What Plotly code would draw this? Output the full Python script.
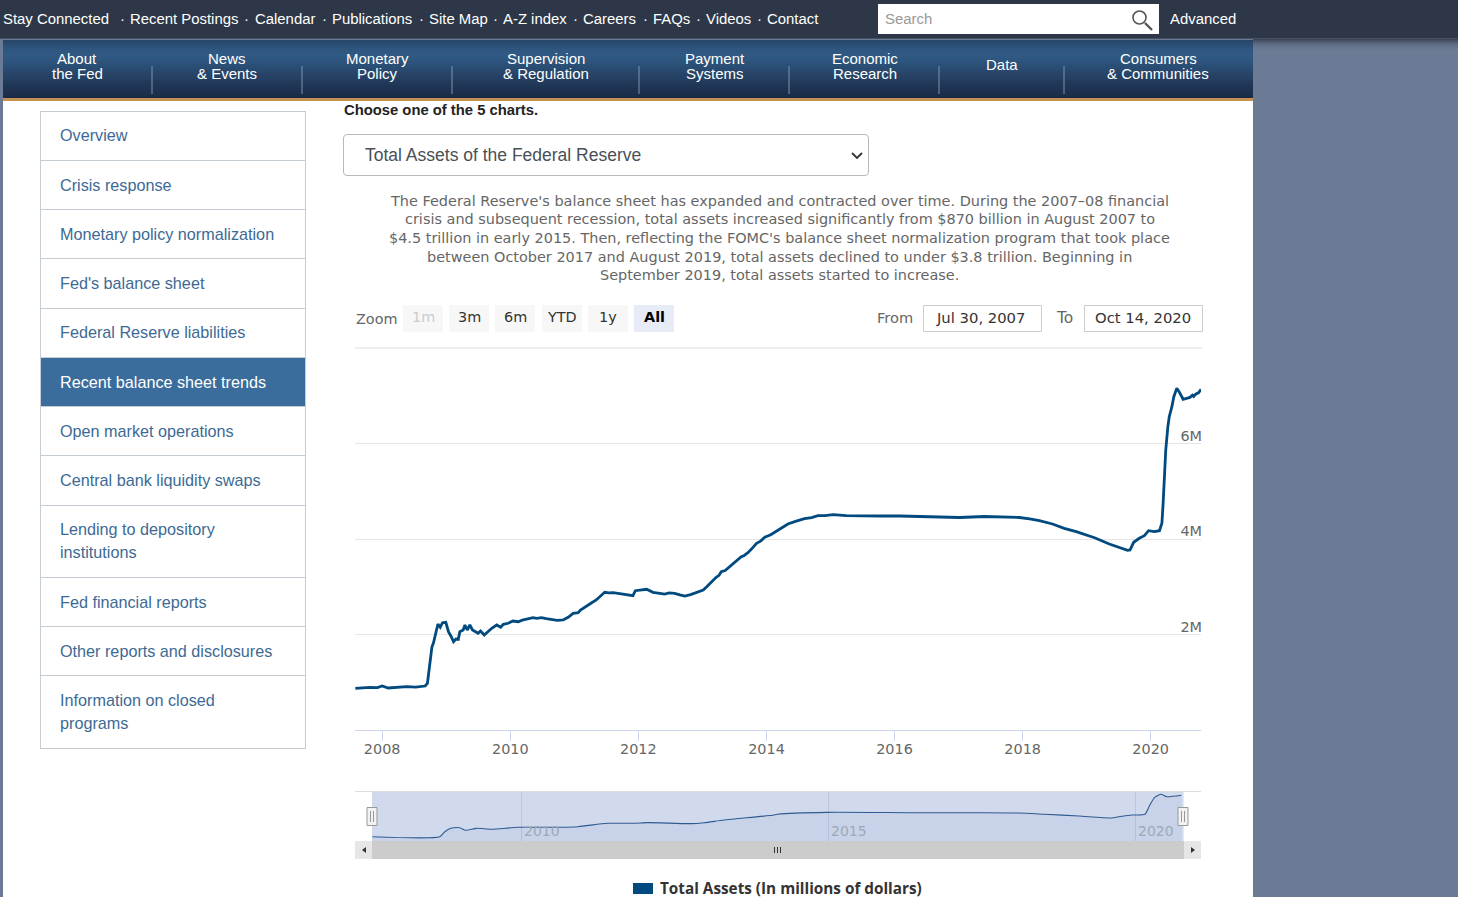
import plotly.graph_objects as go

W, H = 1458, 897

# total assets (millions of dollars)
dates = [
    "2007-08-01", "2007-09-05", "2007-10-22", "2007-12-05", "2008-01-01", "2008-02-04", "2008-03-20", "2008-05-20",
    "2008-07-10", "2008-09-02", "2008-09-15", "2008-09-26", "2008-10-01", "2008-10-11", "2008-10-19", "2008-11-04",
    "2008-11-14", "2008-11-27", "2008-12-10", "2008-12-29", "2009-01-13", "2009-01-29", "2009-02-11", "2009-02-25",
    "2009-03-10", "2009-03-19", "2009-04-07", "2009-04-17", "2009-04-30", "2009-05-15", "2009-05-30", "2009-07-01",
    "2009-07-15", "2009-08-05", "2009-08-28", "2009-09-17", "2009-10-15", "2009-11-07", "2009-11-22", "2009-12-20",
    "2010-01-15", "2010-02-15", "2010-03-10", "2010-04-03", "2010-05-10", "2010-06-01", "2010-06-27", "2010-07-25",
    "2010-08-24", "2010-09-25", "2010-10-29", "2010-11-27", "2010-12-25", "2011-01-23", "2011-02-05", "2011-02-20",
    "2011-03-15", "2011-04-10", "2011-05-06", "2011-05-30", "2011-06-23", "2011-07-15", "2011-08-10", "2011-09-07",
    "2011-10-05", "2011-11-05", "2011-12-01", "2011-12-15", "2012-01-15", "2012-02-17", "2012-03-25", "2012-04-25",
    "2012-05-30", "2012-06-25", "2012-07-26", "2012-08-25", "2012-09-22", "2012-10-25", "2012-11-28", "2013-01-05",
    "2013-01-25", "2013-02-12", "2013-03-01", "2013-03-20", "2013-04-05", "2013-04-18", "2013-05-10", "2013-06-05",
    "2013-07-05", "2013-08-10", "2013-08-25", "2013-09-17", "2013-10-10", "2013-11-05", "2013-11-28", "2013-12-22",
    "2014-01-25", "2014-02-27", "2014-03-28", "2014-05-03", "2014-06-15", "2014-08-06", "2014-09-15", "2014-10-21",
    "2014-12-01", "2015-01-15", "2015-04-01", "2015-06-15", "2015-10-08", "2016-01-30", "2016-05-22", "2016-09-14",
    "2017-01-06", "2017-05-27", "2017-09-18", "2017-12-13", "2018-02-10", "2018-04-06", "2018-06-20", "2018-08-26",
    "2018-11-02", "2019-02-15", "2019-05-10", "2019-08-22", "2019-09-05", "2019-09-26", "2019-10-28", "2019-11-26",
    "2019-12-20", "2020-01-22", "2020-02-20", "2020-03-05", "2020-03-12", "2020-03-20", "2020-03-27", "2020-04-08",
    "2020-04-16", "2020-05-01", "2020-05-12", "2020-05-29", "2020-06-11", "2020-07-04", "2020-07-29", "2020-08-12",
    "2020-08-26", "2020-09-02", "2020-09-15", "2020-09-30", "2020-10-14",
]
total_assets = [
    873000, 885000, 894000, 889000, 921000, 880000, 893000, 907000,
    899000, 921000, 978000, 1326000, 1508000, 1745000, 1816000, 2094000,
    2220000, 2151000, 2247000, 2255000, 2059000, 1954000, 1849000, 1906000,
    1899000, 2059000, 2094000, 2199000, 2094000, 2199000, 2094000, 2025000,
    2073000, 1990000, 2073000, 2130000, 2199000, 2151000, 2214000, 2235000,
    2283000, 2268000, 2300000, 2325000, 2352000, 2338000, 2352000, 2330000,
    2318000, 2296000, 2304000, 2360000, 2444000, 2457000, 2510000, 2549000,
    2612000, 2665000, 2723000, 2800000, 2884000, 2871000, 2878000, 2863000,
    2850000, 2838000, 2813000, 2917000, 2925000, 2947000, 2884000, 2867000,
    2848000, 2870000, 2863000, 2830000, 2806000, 2835000, 2875000, 2932000,
    3000000, 3072000, 3130000, 3198000, 3240000, 3315000, 3340000, 3420000,
    3500000, 3629000, 3650000, 3713000, 3800000, 3910000, 3955000, 4036000,
    4090000, 4168000, 4225000, 4314000, 4370000, 4425000, 4450000, 4488000,
    4490000, 4509000, 4488000, 4482000, 4482000, 4482000, 4471000, 4461000,
    4450000, 4471000, 4461000, 4450000, 4420000, 4383000, 4314000, 4224000,
    4153000, 4027000, 3895000, 3763000, 3770000, 3931000, 4015000, 4069000,
    4174000, 4153000, 4174000, 4329000, 4748000, 5305000, 5864000, 6352000,
    6561000, 6771000, 6980000, 7156000, 7085000, 6926000, 6947000, 6965000,
    7010000, 6985000, 7037000, 7060000, 7135000,
]

# same series as the overview strip shows it, coarser
nav_dates = [
    "2007-08-02", "2008-09-05", "2008-10-05", "2008-11-10", "2009-01-01", "2009-02-06", "2009-04-12", "2009-07-08",
    "2009-12-14", "2010-08-08", "2010-12-06", "2011-05-30", "2011-11-06", "2012-01-23", "2012-10-09", "2012-12-24",
    "2013-04-23", "2014-02-14", "2014-03-14", "2014-12-28", "2016-05-15", "2017-06-13", "2018-02-06", "2018-07-12",
    "2019-01-30", "2019-08-14", "2019-09-24", "2019-12-14", "2020-02-28", "2020-03-28", "2020-04-26", "2020-06-03",
    "2020-07-06", "2020-10-01",
]
nav_assets = [
    870000, 870000, 1610000, 2110000, 2200000, 1820000, 2110000, 1970000,
    2260000, 2260000, 2350000, 2850000, 2850000, 2950000, 2800000, 2940000,
    3340000, 4070000, 4220000, 4470000, 4410000, 4410000, 4370000, 4180000,
    3930000, 3630000, 3820000, 4070000, 4180000, 5550000, 6690000, 7130000,
    6770000, 6980000,
]

range_start = "2007-07-30"
range_end = "2020-10-14"
x_tick_vals = ["2008-01-01", "2010-01-01", "2012-01-01", "2014-01-01", "2016-01-01", "2018-01-01", "2020-01-01"]
x_tick_text = ["2008", "2010", "2012", "2014", "2016", "2018", "2020"]
y_tick_vals = [0, 2000000, 4000000, 6000000]
y_tick_text = ["0", "2M", "4M", "6M"]
nav_tick_vals = ["2010-01-01", "2015-01-01", "2020-01-01"]
nav_tick_text = ["2010", "2015", "2020"]

top_links = ["Recent Postings", "Calendar", "Publications", "Site Map", "A-Z index", "Careers", "FAQs", "Videos", "Contact"]
top_link_x = [130, 255, 332, 429, 503, 583, 653, 706, 767]

nav_labels = [("About", "the Fed"), ("News", "& Events"), ("Monetary", "Policy"), ("Supervision", "& Regulation"),
              ("Payment", "Systems"), ("Economic", "Research"), ("Data",), ("Consumers", "& Communities")]
nav_centers = [77, 227, 377, 546, 715, 865, 1002, 1158]
nav_seps = [152, 302, 452, 639, 789, 939, 1064]

menu_items = ["Overview", "Crisis response", "Monetary policy normalization", "Fed's balance sheet",
              "Federal Reserve liabilities", "Recent balance sheet trends", "Open market operations",
              "Central bank liquidity swaps", ("Lending to depository", "institutions"), "Fed financial reports",
              "Other reports and disclosures", ("Information on closed", "programs")]
menu_edges = [111, 160, 209, 258, 308, 357, 406, 455, 505, 577, 626, 675, 748]
menu_text_y = [135, 185, 234, 283, 332, 382, 431, 480, (529, 552), 602, 651, (700, 723)]

intro_lines = [
    "The Federal Reserve's balance sheet has expanded and contracted over time. During the 2007–08 financial",
    "crisis and subsequent recession, total assets increased significantly from $870 billion in August 2007 to",
    "$4.5 trillion in early 2015. Then, reflecting the FOMC's balance sheet normalization program that took place",
    "between October 2017 and August 2019, total assets declined to under $3.8 trillion. Beginning in",
    "September 2019, total assets started to increase.",
]
zoom_buttons = ["1m", "3m", "6m", "YTD", "1y", "All"]
zoom_left = [403, 449, 495, 542, 588, 634]

ARIAL = "Liberation Sans"
BODY = "DejaVu Sans"
LINE = "#004a80"
AXIS = "#ccd6eb"


def px(x):
    return x / W


def py(y):
    return 1 - y / H


shapes = []
notes = []


def rect(x0, y0, x1, y1, fill, line=None, width=1, layer="below"):
    shapes.append(dict(type="rect", xref="paper", yref="paper", x0=px(x0), x1=px(x1), y0=py(y0), y1=py(y1),
                       fillcolor=fill, line=dict(color=line or fill, width=width if line else 0), layer=layer))


def seg(x0, y0, x1, y1, color, width=1, layer="below"):
    shapes.append(dict(type="line", xref="paper", yref="paper", x0=px(x0), x1=px(x1), y0=py(y0), y1=py(y1),
                       line=dict(color=color, width=width), layer=layer))


def label(x, y, text, size=15, color="#333333", font=ARIAL, anchor="left", bold=False):
    if bold:
        text = "<b>" + text + "</b>"
    if anchor == "left":
        x -= 1  # annotation box adds a pixel
    notes.append(dict(xref="paper", yref="paper", x=px(x), y=py(y), text=text, showarrow=False, xanchor=anchor,
                      yanchor="middle", borderpad=0, font=dict(size=size, color=color, family=font)))


# page background
rect(0, 0, W, H, "#6b7b95")
rect(0, 0, W, 38, "#2d3747")
seg(0, 38.5, W, 38.5, "#465062")
for i in range(12):
    shade = ["#3a4658", "#434f63", "#4b586e", "#525f77", "#58667e", "#5d6b84", "#616f88", "#64738c", "#67768f",
             "#687891", "#6a7a93", "#6b7b94"][i]
    rect(1253, 39 + i, W, 40 + i, shade)

# main nav band
rect(3, 101, 1253, H, "#ffffff")
nav_colors = ["#274668", "#294a6e", "#2b4e74", "#2d5279", "#2e557d", "#2f5780", "#2f5982", "#2f5983", "#2f5982",
              "#2e5780", "#2d557d", "#2c527a", "#2b5077", "#2a4d74", "#294b71", "#28486d", "#27466a", "#264367",
              "#254164", "#243f61", "#233c5e", "#22395a", "#203757", "#1f3554", "#1e3351", "#1d314e", "#1c2f4b",
              "#1b2d49", "#1a2b46"]
for i, c in enumerate(nav_colors):
    rect(3, 40 + 2 * i, 1253, 42 + 2 * i, c)
rect(3, 98, 1253, 101, "#c39250")
for x in nav_seps:
    seg(x, 66, x, 94, "#7f93a9")

# top links
label(3, 19.5, "Stay Connected", 14.9, "#ffffff")
for x, t in zip(top_link_x, top_links):
    label(x - 8, 18.5, "·", 14.9, "#ffffff", anchor="center")
    label(x, 19.5, t, 14.9, "#ffffff")
rect(878, 4, 1159, 34, "#ffffff")
label(885, 19.5, "Search", 14.9, "#999999")
shapes.append(dict(type="circle", xref="paper", yref="paper", x0=px(1133), x1=px(1146), y0=py(11), y1=py(24),
                   line=dict(color="#555555", width=1.6), fillcolor="rgba(0,0,0,0)"))
seg(1145, 23, 1152, 30, "#555555", 2.4)
label(1170, 19.5, "Advanced", 14.9, "#ffffff")

for cx, lines in zip(nav_centers, nav_labels):
    if len(lines) == 1:
        label(cx, 65, lines[0], color="#ffffff", anchor="center")
    else:
        label(cx, 59, lines[0], color="#ffffff", anchor="center")
        label(cx, 74, lines[1], color="#ffffff", anchor="center")

# side menu
rect(40, 357, 306, 407, "#3a6c9c")
for y in menu_edges:
    seg(40, y + 0.5, 306, y + 0.5, "#c5ccd3")
seg(40.5, 111, 40.5, 748, "#c5ccd3")
seg(305.5, 111, 305.5, 748, "#c5ccd3")
for i, item in enumerate(menu_items):
    color = "#ffffff" if i == 5 else "#3d6a94"
    if isinstance(item, tuple):
        label(60, menu_text_y[i][0], item[0], 16.2, color)
        label(60, menu_text_y[i][1], item[1], 16.2, color)
    else:
        label(60, menu_text_y[i], item, 16.2, color)

# heading, dropdown, intro
label(344, 110, "Choose one of the 5 charts.", 14.8, "#222222", bold=True)
shapes.append(dict(type="path", xref="paper", yref="paper", layer="below", fillcolor="#ffffff",
                   line=dict(color="#b8b8b8", width=1),
                   path=f"M{px(347)},{py(134.5)} L{px(865)},{py(134.5)} Q{px(868.5)},{py(134.5)} {px(868.5)},{py(138)} "
                        f"L{px(868.5)},{py(172)} Q{px(868.5)},{py(175.5)} {px(865)},{py(175.5)} L{px(347)},{py(175.5)} "
                        f"Q{px(343.5)},{py(175.5)} {px(343.5)},{py(172)} L{px(343.5)},{py(138)} Q{px(343.5)},{py(134.5)} {px(347)},{py(134.5)} Z"))
label(365, 155, "Total Assets of the Federal Reserve", 17.5, "#495057")
shapes.append(dict(type="path", xref="paper", yref="paper", line=dict(color="#333333", width=1.8),
                   path=f"M{px(852)},{py(153)} L{px(857)},{py(158)} L{px(862)},{py(153)}"))
for i, t in enumerate(intro_lines):
    label(779.5, 200.5 + i * 18.7, t, 14.45, "#666666", BODY, "center")

# range selector
label(356, 319, "Zoom", 14.4, "#666666", BODY)
for x, t in zip(zoom_left, zoom_buttons):
    active = t == "All"
    rect(x, 305, x + 40, 332, "#e6ebf5" if active else "#f7f7f7")
    tcolor = "#cccccc" if t == "1m" else ("#000000" if active else "#333333")
    label(x + 20, 317, t, 14.4, tcolor, BODY, "center", bold=active)
label(877, 317, "From", 14.6, "#666666", BODY)
rect(923.5, 305.5, 1041.5, 331.5, "#ffffff", "#cccccc")
label(980, 317, "Jul 30, 2007", 14.8, "#333333", BODY, "center")
label(1056, 318, "To", 15.5, "#666666", BODY)
rect(1084.5, 305.5, 1202.5, 331.5, "#ffffff", "#cccccc")
label(1143, 317, "Oct 14, 2020", 14.8, "#333333", BODY, "center")
seg(355, 348, 1202, 348, "#e9e9e9", 1.5)

# navigator + scrollbar chrome
seg(355, 791.5, 1201, 791.5, "#dddddd")
rect(372, 792, 1183.5, 841, "#d0daec")
rect(355, 841, 1201, 859, "#f2f2f2")
rect(372, 841, 1184, 859, "#cccccc")
rect(355, 841, 372, 859, "#e6e6e6")
rect(1184, 841, 1201, 859, "#e6e6e6")
shapes.append(dict(type="path", xref="paper", yref="paper", fillcolor="#333333", line=dict(width=0),
                   path=f"M{px(366)},{py(847)} L{px(362)},{py(850)} L{px(366)},{py(853)} Z"))
shapes.append(dict(type="path", xref="paper", yref="paper", fillcolor="#333333", line=dict(width=0),
                   path=f"M{px(1191)},{py(847)} L{px(1195)},{py(850)} L{px(1191)},{py(853)} Z"))
for x in [775, 778, 781]:
    seg(x - 0.5, 847, x - 0.5, 853, "#333333")
for x in [372, 1183]:
    rect(x - 5, 807.5, x + 5, 825.5, "#f2f2f2", "#999999", 1, "above")
    seg(x - 1.5, 811, x - 1.5, 822, "#999999", 1, "above")
    seg(x + 1.5, 811, x + 1.5, 822, "#999999", 1, "above")

# legend
rect(633, 883, 653, 894, LINE)
label(660, 888, "Total Assets (In millions of dollars)", 15.3, "#333333", "Open Sans", bold=True)

for x, t in zip(nav_tick_vals, nav_tick_text):
    notes.append(dict(xref="x2", yref="paper", x=x, y=py(831), text=t, showarrow=False, xanchor="left", xshift=1,
                      yanchor="middle", font=dict(size=14, color="#a0a8b6", family=BODY)))

fig = go.Figure()
fig.add_trace(go.Scatter(x=dates, y=total_assets, mode="lines", line=dict(color=LINE, width=2.8), hoverinfo="skip"))
fig.add_trace(go.Scatter(x=nav_dates, y=nav_assets, mode="lines", xaxis="x2", yaxis="y2", fill="tozeroy",
                         fillcolor="rgba(51,92,173,0.05)", line=dict(color="#2f5a90", width=1.1, shape="spline", smoothing=0.6),
                         hoverinfo="skip"))

fig.update_layout(
    width=W, height=H, margin=dict(l=0, r=0, t=0, b=0), showlegend=False,
    paper_bgcolor="rgba(0,0,0,0)", plot_bgcolor="rgba(0,0,0,0)",
    shapes=shapes, annotations=notes,
    xaxis=dict(domain=[px(355), px(1201)], range=[range_start, range_end], tickmode="array", tickvals=x_tick_vals,
               ticktext=x_tick_text, showgrid=False, zeroline=False, showline=True, linecolor=AXIS, linewidth=1,
               tickfont=dict(size=14.4, color="#666666", family=BODY), anchor="y", ticks="outside", ticklen=10,
               tickcolor=AXIS, tickwidth=1, ticklabelstandoff=-4),
    yaxis=dict(domain=[py(730), py(348)], range=[0, 8000000], tickmode="array", tickvals=y_tick_vals,
               ticktext=y_tick_text, side="right", ticklabelposition="inside", ticklabelshift=-8, ticklabelstandoff=-4,
               gridcolor="#e6e6e6", gridwidth=1, zeroline=False, showline=False, anchor="x",
               tickfont=dict(size=14.4, color="#666666", family=BODY)),
    xaxis2=dict(domain=[px(372), px(1183.5)], range=[range_start, range_end], tickmode="array", tickvals=nav_tick_vals,
                showticklabels=False, gridcolor="#bcc7dc", zeroline=False, showline=False, anchor="y2", ticks=""),
    yaxis2=dict(domain=[py(841), py(792)], range=[240000, 7470000], showticklabels=False, showgrid=False,
                zeroline=False, showline=False, anchor="x2", ticks=""),
)

fig.write_html("out.html", post_script="document.body.style.margin='0';document.body.style.overflow='hidden';",
               config=dict(displayModeBar=False))
